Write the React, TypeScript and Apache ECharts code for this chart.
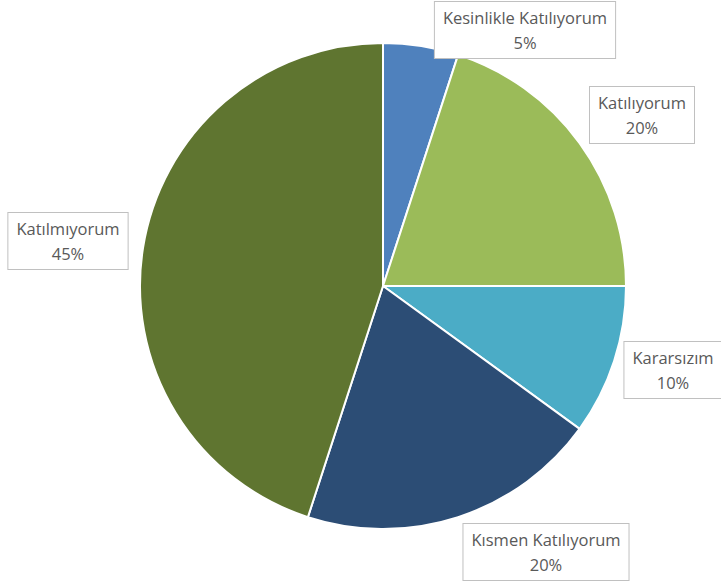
import React, { useEffect, useRef } from "react";
import * as echarts from "echarts";

const categories = [
  "Kesinlikle Katılıyorum",
  "Katılıyorum",
  "Kararsızım",
  "Kısmen Katılıyorum",
  "Katılmıyorum",
];
const values = [5, 20, 10, 20, 45];
const colors = ["#4F81BD", "#9BBB59", "#4BACC6", "#2C4D75", "#5F7530"];
// label box centres (layout only)
const labelPos = [
  [525, 30],
  [642, 115],
  [673, 370],
  [546, 552],
  [68, 241],
];

export default function App() {
  const ref = useRef<HTMLDivElement>(null);
  useEffect(() => {
    document.body.style.margin = "0";
    const chart = echarts.init(ref.current!, null, { renderer: "svg" });
    chart.setOption({
      animation: false,
      backgroundColor: "#ffffff",
      series: [
        {
          type: "pie",
          center: [383, 286],
          radius: 243,
          startAngle: 90,
          clockwise: true,
          avoidLabelOverlap: false,
          itemStyle: { borderColor: "#ffffff", borderWidth: 2 },
          label: {
            show: true,
            formatter: "{b}\n{d}%",
            fontFamily: "Open Sans",
            fontSize: 16.5,
            lineHeight: 25,
            color: "#595959",
            backgroundColor: "#ffffff",
            borderColor: "#c0c0c0",
            borderWidth: 1,
            padding: [3, 8],
            align: "center",
          },
          labelLine: { show: false },
          labelLayout: (p: any) => {
            const pos = labelPos[p.dataIndex];
            return {
              x: pos[0],
              y: pos[1],
              align: "center",
              verticalAlign: "middle",
            };
          },
          data: categories.map((c, i) => ({
            name: c,
            value: values[i],
            itemStyle: { color: colors[i] },
          })),
        },
      ],
    });
    return () => chart.dispose();
  }, []);
  return <div ref={ref} style={{ width: 721, height: 585 }} />;
}
